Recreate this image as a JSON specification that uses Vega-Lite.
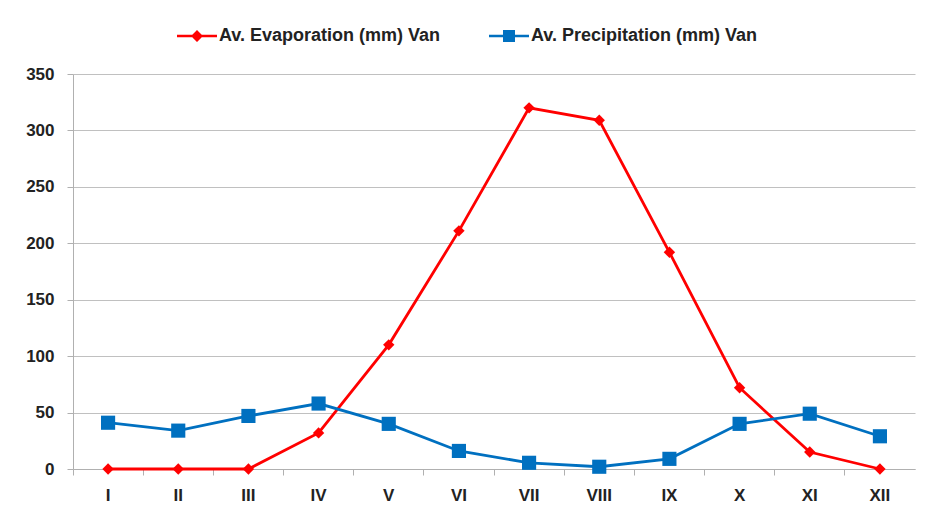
{
  "$schema": "https://vega.github.io/schema/vega-lite/v6.json",
  "autosize": "none",
  "width": 842,
  "height": 395,
  "padding": {"left": 73, "top": 74, "right": 12, "bottom": 52},
  "background": "white",
  "config": {
    "font": "'Liberation Sans', Roboto",
    "view": {"stroke": null}
  },
  "data": {
    "values": [
      {"month": "I", "series": "Av. Evaporation (mm) Van", "value": 0},
      {"month": "II", "series": "Av. Evaporation (mm) Van", "value": 0},
      {"month": "III", "series": "Av. Evaporation (mm) Van", "value": 0},
      {"month": "IV", "series": "Av. Evaporation (mm) Van", "value": 32},
      {"month": "V", "series": "Av. Evaporation (mm) Van", "value": 110},
      {"month": "VI", "series": "Av. Evaporation (mm) Van", "value": 211},
      {"month": "VII", "series": "Av. Evaporation (mm) Van", "value": 320},
      {"month": "VIII", "series": "Av. Evaporation (mm) Van", "value": 309},
      {"month": "IX", "series": "Av. Evaporation (mm) Van", "value": 192},
      {"month": "X", "series": "Av. Evaporation (mm) Van", "value": 72},
      {"month": "XI", "series": "Av. Evaporation (mm) Van", "value": 15},
      {"month": "XII", "series": "Av. Evaporation (mm) Van", "value": 0},
      {"month": "I", "series": "Av. Precipitation (mm) Van", "value": 41},
      {"month": "II", "series": "Av. Precipitation (mm) Van", "value": 34},
      {"month": "III", "series": "Av. Precipitation (mm) Van", "value": 47},
      {"month": "IV", "series": "Av. Precipitation (mm) Van", "value": 58},
      {"month": "V", "series": "Av. Precipitation (mm) Van", "value": 40},
      {"month": "VI", "series": "Av. Precipitation (mm) Van", "value": 16},
      {"month": "VII", "series": "Av. Precipitation (mm) Van", "value": 5.5},
      {"month": "VIII", "series": "Av. Precipitation (mm) Van", "value": 2},
      {"month": "IX", "series": "Av. Precipitation (mm) Van", "value": 9},
      {"month": "X", "series": "Av. Precipitation (mm) Van", "value": 40},
      {"month": "XI", "series": "Av. Precipitation (mm) Van", "value": 49},
      {"month": "XII", "series": "Av. Precipitation (mm) Van", "value": 29}
    ]
  },
  "encoding": {
    "x": {
      "field": "month",
      "type": "ordinal",
      "sort": null,
      "scale": {"type": "band", "paddingInner": 0, "paddingOuter": 0},
      "axis": {
        "title": null,
        "labelAngle": 0,
        "labelFontSize": 17,
        "labelFontWeight": "bold",
        "labelColor": "#222",
        "labelPadding": 12,
        "bandPosition": 0,
        "domainColor": "#b0b0b0",
        "tickColor": "#b0b0b0",
        "tickSize": 6,
        "grid": false
      }
    },
    "y": {
      "field": "value",
      "type": "quantitative",
      "scale": {"domain": [0, 350], "nice": false},
      "axis": {
        "title": null,
        "values": [0, 50, 100, 150, 200, 250, 300, 350],
        "labelFontSize": 17,
        "labelFontWeight": "bold",
        "labelColor": "#222",
        "labelPadding": 13,
        "domainColor": "#b0b0b0",
        "tickColor": "#b0b0b0",
        "tickSize": 6,
        "gridColor": "#c0c0c0",
        "gridWidth": 1
      }
    },
    "color": {
      "field": "series",
      "type": "nominal",
      "scale": {
        "domain": ["Av. Evaporation (mm) Van", "Av. Precipitation (mm) Van"],
        "range": ["#ff0000", "#0070c0"]
      },
      "legend": {
        "title": null,
        "orient": "none",
        "direction": "horizontal",
        "legendX": 104,
        "legendY": -58,
        "labelFontSize": 18,
        "labelFontWeight": "bold",
        "labelColor": "#222",
        "labelLimit": 0,
        "labelOffset": 2,
        "columnPadding": 48,
        "symbolSize": 1600,
        "symbolStrokeWidth": 0,
        "encode": {
          "symbols": {
            "update": {
              "shape": {"signal": "datum.value === 'Av. Evaporation (mm) Van' ? 'M-1,-0.06L1,-0.06L1,0.06L-1,0.06Z M0,-0.3L0.3,0L0,0.3L-0.3,0Z' : 'M-1,-0.06L1,-0.06L1,0.06L-1,0.06Z M-0.3,-0.3L0.3,-0.3L0.3,0.3L-0.3,0.3Z'"},
              "fill": {"signal": "datum.value === 'Av. Evaporation (mm) Van' ? '#ff0000' : '#0070c0'"},
              "stroke": {"value": "transparent"},
              "size": {"value": 1600},
              "opacity": {"value": 1}
            }
          }
        }
      }
    }
  },
  "layer": [
    {
      "mark": {"type": "line", "strokeWidth": 2.8}
    },
    {
      "transform": [{"filter": "datum.series === 'Av. Evaporation (mm) Van'"}],
      "mark": {"type": "point", "filled": true, "opacity": 1, "shape": "diamond", "size": 130}
    },
    {
      "transform": [{"filter": "datum.series === 'Av. Precipitation (mm) Van'"}],
      "mark": {"type": "point", "filled": true, "opacity": 1, "shape": "square", "size": 200}
    }
  ]
}
